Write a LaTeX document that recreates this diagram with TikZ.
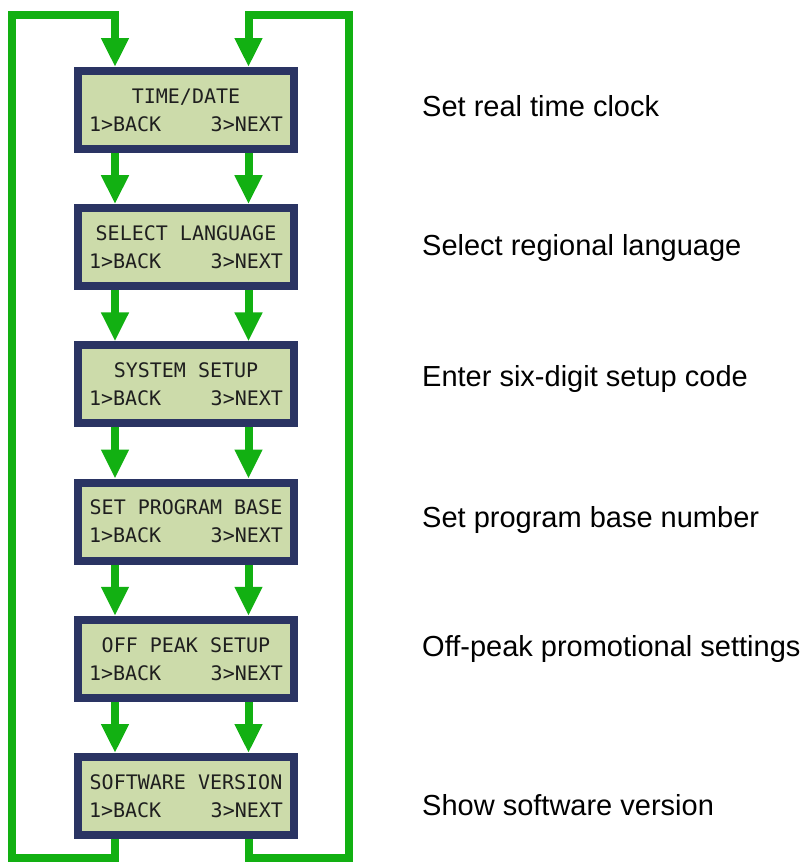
\documentclass[tikz,border=0pt]{standalone}
\usepackage{fontspec}
\setmainfont{Liberation Sans}[Ligatures={TeX,NoCommon}]
\newfontfamily\lcdfont{DejaVu Sans Mono}
\usetikzlibrary{positioning,arrows.meta}
\definecolor{lcdgreen}{HTML}{CCDBAA}
\definecolor{lcdframe}{HTML}{2A3463}
\definecolor{flowgreen}{HTML}{12B012}

\begin{document}
\begin{tikzpicture}[
            x=1pt, y=-1pt,
            node distance=51.2pt,
            lcd/.style={
                draw=lcdframe,
                fill=lcdgreen,
                line width=8pt,
                minimum width=216pt,
                minimum height=78pt,
                inner sep=0pt,
                text width=194pt,
                align=flush center,
                text=black!88,
                font=\lcdfont\fontsize{20}{28}\selectfont
            },
            note/.style={font=\fontsize{29}{34}\selectfont, inner sep=0pt},
            flow/.style={draw=flowgreen, line width=8pt, -{Triangle[width=26pt,length=29pt]}}
        ]

        \useasboundingbox (0,0) rectangle (806,865);

        \coordinate (lcol) at (115,0);
        \coordinate (rcol) at (248.5,0);
        \coordinate (bl) at (12,858);
        \coordinate (tl) at (12,15);
        \coordinate (br) at (349,858);
        \coordinate (tr) at (349,15);

        \node[lcd] (b1) at (186,110) {TIME/DATE\\1>BACK\hfill 3>NEXT};
        \node[lcd, below=of b1] (b2) {SELECT LANGUAGE\\1>BACK\hfill 3>NEXT};
        \node[lcd, below=of b2] (b3) {SYSTEM SETUP\\1>BACK\hfill 3>NEXT};
        \node[lcd, below=of b3] (b4) {SET PROGRAM BASE\\1>BACK\hfill 3>NEXT};
        \node[lcd, below=of b4] (b5) {OFF PEAK SETUP\\1>BACK\hfill 3>NEXT};
        \node[lcd, below=of b5] (b6) {SOFTWARE VERSION\\1>BACK\hfill 3>NEXT};

        \node[note, right=124pt of b1, anchor=base west, yshift=-6pt] (n1) {Set real time clock};
        \node[note, right=124pt of b2, anchor=base west, yshift=-8pt] (n2) {Select regional language};
        \node[note, right=124pt of b3, anchor=base west, yshift=-2pt] (n3) {Enter six-digit setup code};
        \node[note, right=124pt of b4, anchor=base west, yshift=-6pt] (n4) {Set program base number};
        \node[note, right=124pt of b5, anchor=base west, yshift=2pt] (n5) {Off-peak promotional settings};
        \node[note, right=124pt of b6, anchor=base west, yshift=-19pt] (n6) {Show software version};

        \foreach \a/\b in {b1/b2,b2/b3,b3/b4,b4/b5,b5/b6} {
            \draw[flow] (\a.south -| lcol) -- (\b.north -| lcol);
            \draw[flow] (\a.south -| rcol) -- (\b.north -| rcol);
        }

        \draw[flow] (b6.south -| lcol) |- (bl) -- (tl) -| (b1.north -| lcol);
        \draw[flow] (b6.south -| rcol) |- (br) -- (tr) -| (b1.north -| rcol);

        \end{tikzpicture}
\end{document}
